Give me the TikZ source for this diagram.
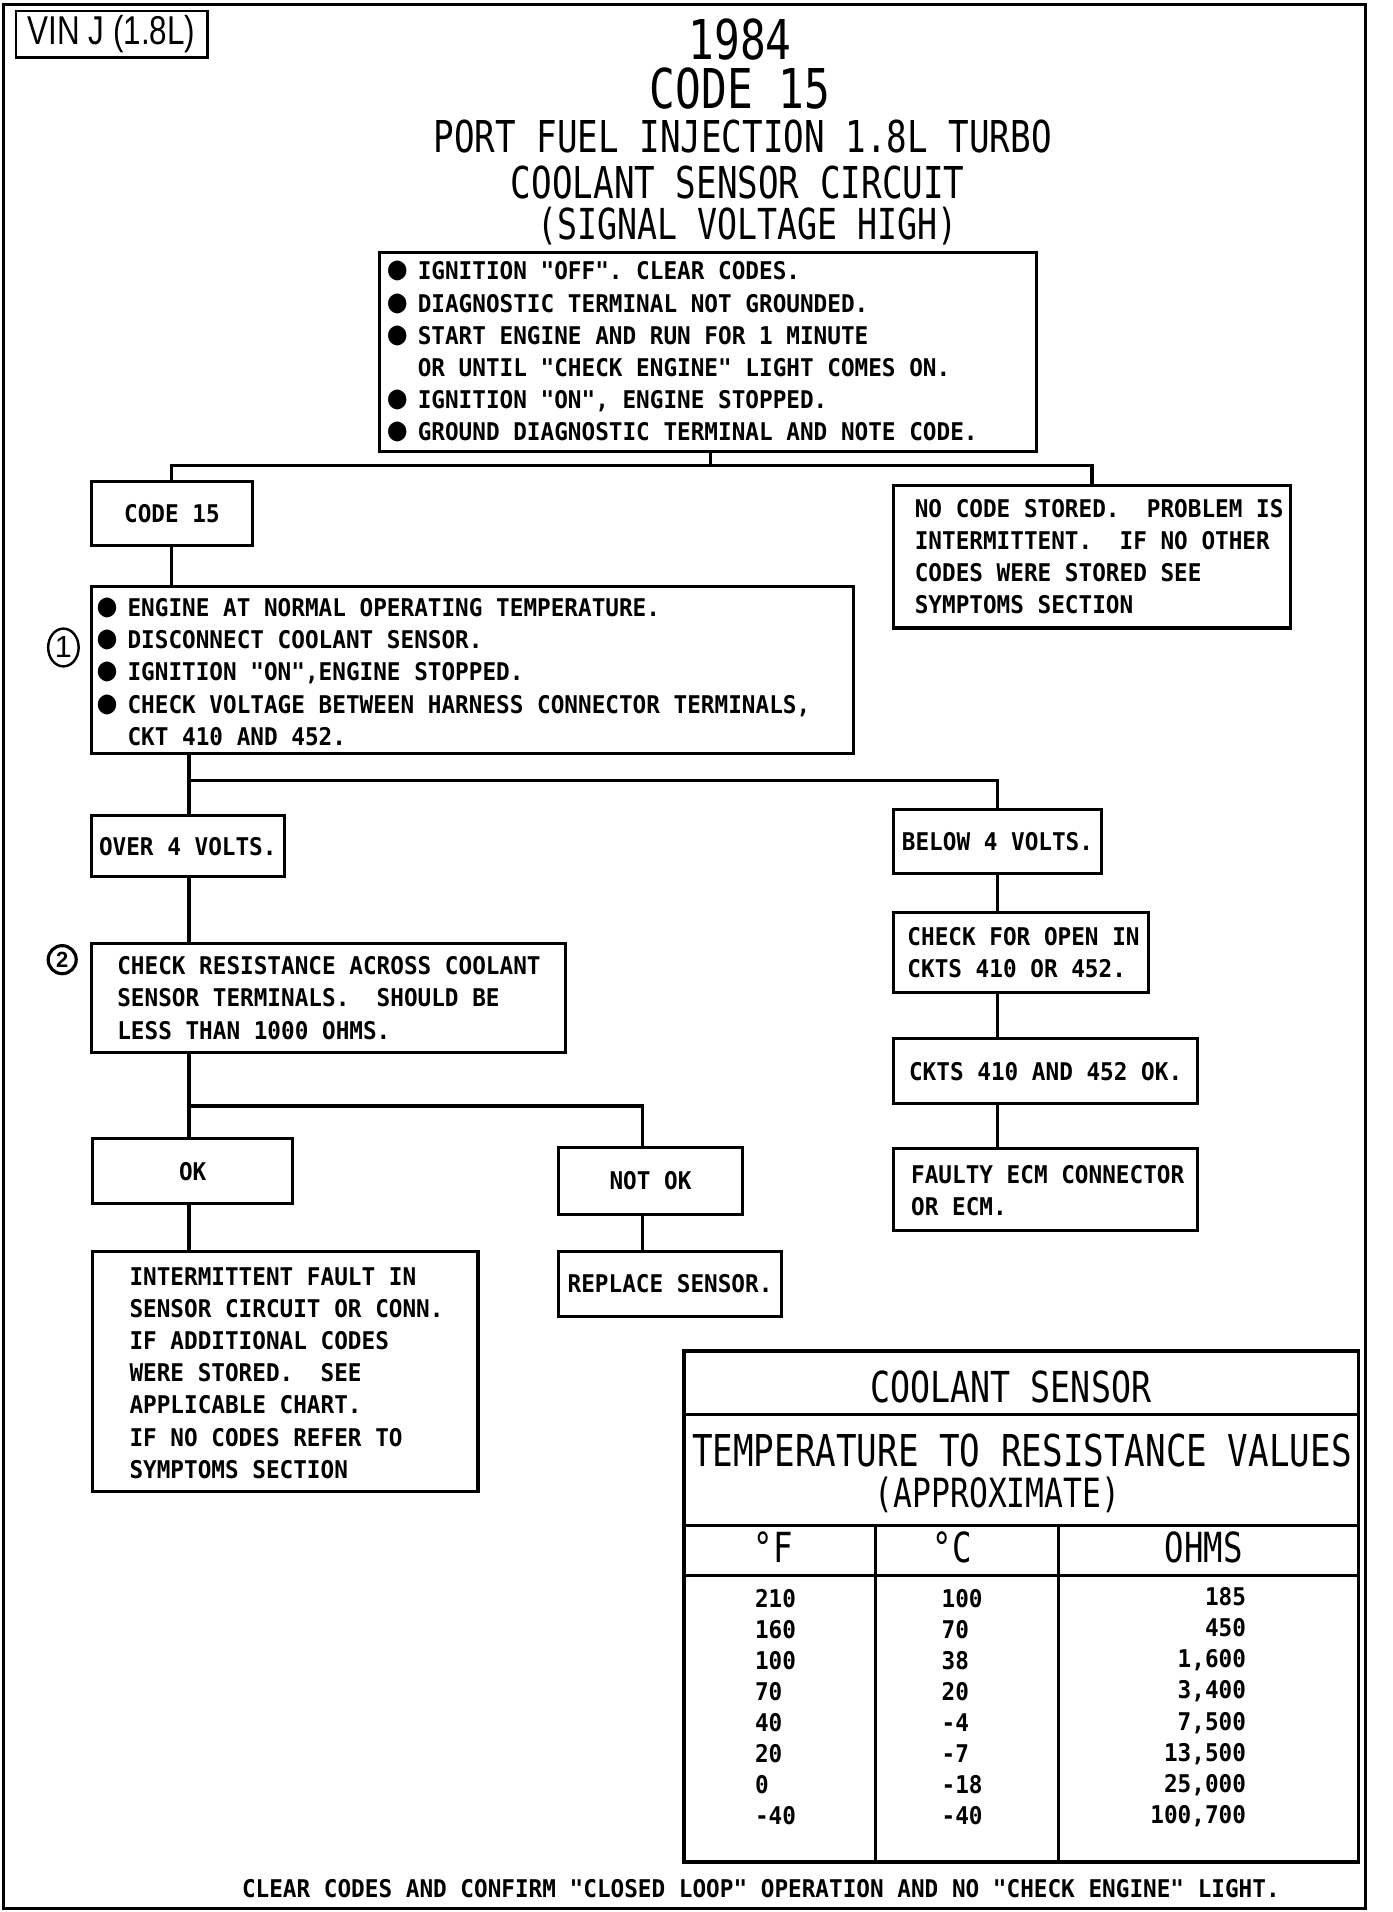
\documentclass[tikz,border=0pt]{standalone}
\usepackage{fontspec}
\usetikzlibrary{shapes.geometric}
\newfontfamily\myTitle{DejaVu Sans Mono}[FakeStretch=0.78]
\newfontfamily\myBody{DejaVu Sans Mono Bold}[FakeStretch=0.93]
\newfontfamily\myVin{Liberation Sans}[FakeStretch=0.78]
\newfontfamily\myNum{Liberation Sans}
\newcommand\bul{\makebox[11.2pt]{\fontsize{27}{27}\selectfont●}}
\frenchspacing
\begin{document}
\begin{tikzpicture}[x=1pt,y=-1pt,
  box/.style={draw, line width=2.5pt, inner sep=0pt},
  ln/.style={line width=2.5pt},
  tl/.style={line width=3pt},
  bt/.style={font=\myBody\fontsize{20}{26.4}\selectfont, inner sep=0pt, align=left, anchor=west},
  ct/.style={font=\myBody\fontsize{20}{26.4}\selectfont},
  tt/.style={font=\myTitle\fontsize{36}{40}\selectfont, inner sep=0pt, anchor=base},
  bigt/.style={font=\myTitle\fontsize{45}{50}\selectfont, inner sep=0pt, anchor=base},
]
\useasboundingbox (0,0) rectangle (1142,1568);
% frame
\draw[line width=2.5pt] (3,4) rectangle (1120,1565);
\node[draw, line width=2pt, minimum width=157pt, minimum height=38pt, inner sep=0pt,
      font=\myVin\fontsize{33}{36}\selectfont] (vin) at (91.5,28) {VIN J (1.8L)};

% titles
\node[bigt] (t1984) at (607,49) {1984};
\node[bigt] (tcode) at (607,89) {CODE 15};
\node[tt] (tport) at (609,125) {PORT FUEL INJECTION 1.8L TURBO};
\node[tt] (tcirc) at (605,163) {COOLANT SENSOR CIRCUIT};
\node[tt, font=\myTitle\fontsize{35}{40}\selectfont] (tsig) at (613,196) {(SIGNAL VOLTAGE HIGH)};

% boxes
\node[box, minimum width=539pt, minimum height=163pt] (b1) at (580.5,288.5) {};
\node[bt] (b1t) at (320,288.5) {\bul~IGNITION "OFF". CLEAR CODES.\\\bul~DIAGNOSTIC TERMINAL NOT GROUNDED.\\\bul~START ENGINE AND RUN FOR 1 MINUTE\\\hphantom{\bul}~OR UNTIL "CHECK ENGINE" LIGHT COMES ON.\\\bul~IGNITION "ON", ENGINE STOPPED.\\\bul~GROUND DIAGNOSTIC TERMINAL AND NOTE CODE.};

\node[box, ct, minimum width=132pt, minimum height=52pt] (code) at (141,421) {CODE 15};

\node[box, minimum width=325pt, minimum height=117pt] (nocode) at (895.5,456.5) {};
\node[bt] (nocodet) at (750,456.5) {NO CODE STORED.~ PROBLEM IS\\INTERMITTENT.~ IF NO OTHER\\CODES WERE STORED SEE\\SYMPTOMS SECTION};

\node[box, minimum width=625pt, minimum height=137pt] (b2) at (387.5,549.5) {};
\node[bt] (b2t) at (82,551) {\bul~ENGINE AT NORMAL OPERATING TEMPERATURE.\\\bul~DISCONNECT COOLANT SENSOR.\\\bul~IGNITION "ON",ENGINE STOPPED.\\\bul~CHECK VOLTAGE BETWEEN HARNESS CONNECTOR TERMINALS,\\\hphantom{\bul}~CKT 410 AND 452.};
\node[draw, ellipse, line width=2pt, minimum width=25pt, minimum height=31pt, inner sep=0pt,
      font=\myNum\fontsize{25}{27}\selectfont] (c1) at (52,531) {1};

\node[box, ct, minimum width=158pt, minimum height=50pt] (over) at (154,694) {OVER 4 VOLTS.};
\node[box, ct, minimum width=170pt, minimum height=52pt] (below) at (818,690) {BELOW 4 VOLTS.};

\node[box, minimum width=389pt, minimum height=89pt] (chk) at (269.5,818.5) {};
\node[bt] (chkt) at (96,818.5) {CHECK RESISTANCE ACROSS COOLANT\\SENSOR TERMINALS.~ SHOULD BE\\LESS THAN 1000 OHMS.};
\node[draw, circle, line width=2.6pt, minimum size=23pt, inner sep=0pt,
      font=\myNum\bfseries\fontsize{18}{20}\selectfont] (c2) at (51,787) {2};

\node[box, ct, minimum width=164pt, minimum height=53pt] (ok) at (158,960.5) {OK};
\node[box, ct, minimum width=151pt, minimum height=55pt] (notok) at (533.5,968.5) {NOT OK};
\node[box, ct, minimum width=183pt, minimum height=54pt] (repl) at (549.5,1053) {REPLACE SENSOR.};

\node[box, minimum width=316pt, minimum height=197pt] (inter) at (234,1124.5) {};
\node[bt] (intert) at (106,1126) {INTERMITTENT FAULT IN\\SENSOR CIRCUIT OR CONN.\\IF ADDITIONAL CODES\\WERE STORED.~ SEE\\APPLICABLE CHART.\\IF NO CODES REFER TO\\SYMPTOMS SECTION};

\node[box, minimum width=209pt, minimum height=66pt] (open) at (837.5,781) {};
\node[bt] (opent) at (744,781.5) {CHECK FOR OPEN IN\\CKTS 410 OR 452.};
\node[box, ct, minimum width=249pt, minimum height=53pt] (ckok) at (857.5,878.5) {CKTS 410 AND 452 OK.};
\node[box, minimum width=249pt, minimum height=67pt] (faulty) at (857.5,975.5) {};
\node[bt] (faultyt) at (747,976.5) {FAULTY ECM CONNECTOR\\OR ECM.};

% connectors
\coordinate (j1) at (583,382);
\draw[ln] (j1 |- b1.south) -- (j1);
\draw[ln] (code.north) |- (j1) -| (nocode.north);
\draw[ln] (code.south) -- (code.south |- b2.north);
\coordinate (j2) at (155,640);
\draw[ln] (j2 |- b2.south) -- (j2 |- over.north);
\draw[ln] (j2) -| (below.north);
\draw[ln] (j2 |- over.south) -- (j2 |- chk.north);
\coordinate (j3) at (155,907);
\coordinate (x527) at (527,0);
\draw[ln] (j3 |- chk.south) -- (j3 |- ok.north);
\draw[ln] (j3) -| (x527 |- notok.north);
\draw[ln] (j3 |- ok.south) -- (j3 |- inter.north);
\draw[ln] (x527 |- notok.south) -- (x527 |- repl.north);
\coordinate (x818) at (818,0);
\draw[ln] (below.south) -- (x818 |- open.north);
\draw[ln] (x818 |- open.south) -- (x818 |- ckok.north);
\draw[ln] (x818 |- ckok.south) -- (x818 |- faulty.north);

% table
\draw[tl] (561,1108) rectangle (1114,1527);
\draw[tl] (561,1160) -- (1114,1160);
\draw[tl] (561,1251) -- (1114,1251);
\draw[tl] (561,1292) -- (1114,1292);
\draw[tl] (718,1251) -- (718,1527);
\draw[tl] (868,1251) -- (868,1527);
\node[tt, font=\myTitle\fontsize{35}{40}\selectfont] (tcs) at (829,1150) {COOLANT SENSOR};
\node[tt] (ttemp) at (838,1203) {TEMPERATURE TO RESISTANCE VALUES};
\node[tt, font=\myTitle\fontsize{33}{40}\selectfont] (tapp) at (818,1236) {(APPROXIMATE)};
\node[tt, font=\myTitle\fontsize{34}{40}\selectfont] (hf) at (634,1281) {°F};
\node[tt, font=\myTitle\fontsize{34}{40}\selectfont] (hc) at (781,1281) {°C};
\node[tt, font=\myTitle\fontsize{34}{40}\selectfont] (ho) at (987,1281) {OHMS};
\node[bt, font=\myBody\fontsize{20}{25.45}\selectfont] (colf) at (619,1400) {210\\160\\100\\70\\40\\20\\0\\-40};
\node[bt, font=\myBody\fontsize{20}{25.45}\selectfont] (colc) at (772,1400) {100\\70\\38\\20\\-4\\-7\\-18\\-40};
\node[bt, anchor=east, align=right, font=\myBody\fontsize{20}{25.45}\selectfont] (colo) at (1022,1400) {185\\450\\1,600\\3,400\\7,500\\13,500\\25,000\\100,700};

% bottom line
\node[ct, inner sep=0pt] (foot) at (624,1549) {CLEAR CODES AND CONFIRM "CLOSED LOOP" OPERATION AND NO "CHECK ENGINE" LIGHT.};
\end{tikzpicture}
\end{document}
